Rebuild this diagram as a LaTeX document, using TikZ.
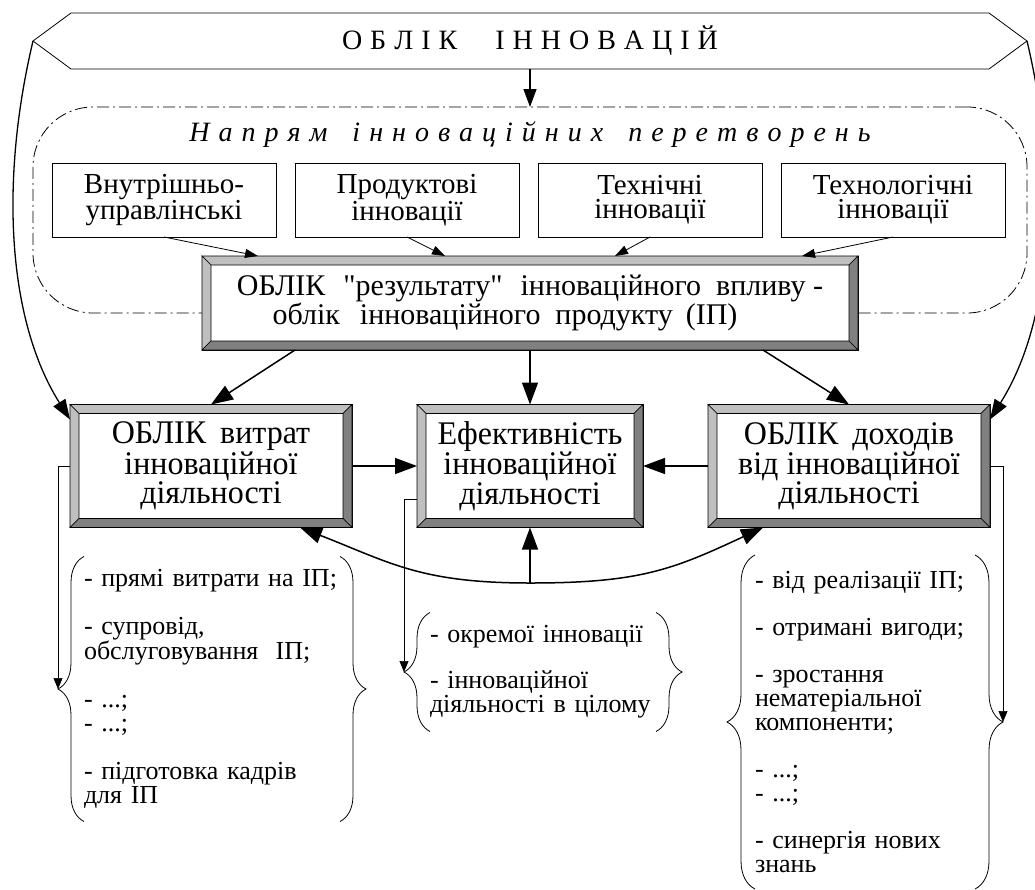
\documentclass[tikz,border=0pt]{standalone}
\usepackage{fontspec}
\setmainfont{Liberation Serif}[Ligatures=TeXOff]
\usetikzlibrary{positioning,calc,arrows.meta,decorations.pathreplacing}

\colorlet{bevlight}{black!25}
\colorlet{bevdark}{black!50}

\newcommand{\boxfont}{\fontsize{33}{25}\selectfont\addfontfeature{FakeStretch=0.97}}

% frame of a raised box, drawn round a named node
\newcommand{\bevelframe}[1]{%
  \filldraw[fill=bevlight,line width=0.6pt] (#1.north west) -- (#1.north east) -- ([shift={(-9,9)}]#1.north east) -- ([shift={(9,9)}]#1.north west) -- cycle;
  \filldraw[fill=bevlight,line width=0.6pt] (#1.north west) -- ([shift={(9,9)}]#1.north west) -- ([shift={(9,-9)}]#1.south west) -- (#1.south west) -- cycle;
  \filldraw[fill=bevdark,line width=0.6pt] (#1.north east) -- (#1.south east) -- ([shift={(-9,-9)}]#1.south east) -- ([shift={(-9,9)}]#1.north east) -- cycle;
  \filldraw[fill=bevdark,line width=0.6pt] (#1.south west) -- ([shift={(9,-9)}]#1.south west) -- ([shift={(-9,-9)}]#1.south east) -- (#1.south east) -- cycle;
}

\begin{document}
\begin{tikzpicture}[x=1pt,y=-1pt,
  every node/.style={font=\fontsize{26}{24}\selectfont, outer sep=0pt},
  kind/.style={draw, line width=0.8pt, minimum width=224pt, minimum height=74pt, align=center, inner sep=0pt, font=\fontsize{29}{24}\selectfont},
  bevel/.style={draw, fill=white, line width=0.6pt, align=center, inner sep=0pt, font=\boxfont},
  listbox/.style={align=left, inner sep=0pt},
  curly/.style={decorate, decoration={brace, amplitude=#1}, line width=0.8pt},
  zone/.style={draw, line width=0.8pt, rounded corners=60pt, dash pattern=on 12pt off 4pt on 2pt off 4pt},
  arr/.style={line width=1.5pt, >={Triangle[length=22pt,width=16pt]}, ->},
  bigarr/.style={line width=1.3pt, -{Triangle[length=20pt,width=14pt]}},
  thinarr/.style={line width=0.8pt, -{Triangle[length=13pt,width=9pt]}},
  listarr/.style={line width=0.6pt, -{Triangle[length=11pt,width=9pt]}}]
\useasboundingbox (0,0) rectangle (1035,889);

% banner
\node[minimum width=918pt, minimum height=56pt, inner sep=0pt, font=\fontsize{28}{24}\selectfont] (banner) at (530,41)
  {\spaceskip=8pt\relax О Б Л І К\hspace{38pt}І Н Н О В А Ц І Й};
\draw[line width=0.8pt] (banner.north west) -- (banner.north east) -- ([xshift=38pt]banner.east)
  -- (banner.south east) -- (banner.south west) -- ([xshift=-38pt]banner.west) -- cycle;
\coordinate (bL) at ([xshift=-38pt]banner.west);
\coordinate (bR) at ([xshift=38pt]banner.east);

% directions
\node[zone, minimum width=994pt, minimum height=206pt] (zone) at (530,210) {};
\node[font=\fontsize{28}{24}\selectfont\itshape] (dir) at (530,135)
  {\spaceskip=9pt\relax Н а п р я м\hspace{25pt}і н н о в а ц і й н и х\hspace{25pt}п е р е т в о р е н ь};

\node[kind] (k1) at (164,200) {Внутрішньо-\\управлінські};
\node[kind, right=19pt of k1] (k2) {Продуктові\\інновації};
\node[kind, right=19pt of k2] (k3) {Технічні\\інновації};
\node[kind, right=19pt of k3] (k4) {Технологічні\\інновації};

\node[bevel, minimum width=656pt, minimum height=94pt, font=\fontsize{30}{25}\selectfont] (res) at (530,303)
  {ОБЛІК\hspace{18pt}"результату"\hspace{18pt}інноваційного\hspace{15pt}впливу -\\облік\hspace{20pt}інноваційного\hspace{15pt}продукту\hspace{13pt}(ІП)\hspace*{50pt}};
\bevelframe{res}

\node[bevel, minimum width=282pt, minimum height=123pt] (cost) at (211,466) {ОБЛІК\hspace{14pt}витрат\\інноваційної\\діяльності};
\node[bevel, minimum width=226pt, minimum height=123pt] (eff) at (530,466) {Ефективність\\інноваційної\\діяльності};
\node[bevel, minimum width=282pt, minimum height=123pt] (inc) at (849,466) {ОБЛІК\hspace{14pt}доходів\\від інноваційної\\діяльності};
\bevelframe{cost}
\bevelframe{eff}
\bevelframe{inc}

% lists
\node[listbox, text width=256pt, minimum height=265pt] (lc) at (212,689)
  {- прямі витрати на ІП;\\[24pt]- супровід,\\обслуговування\ \ ІП;\\[24pt]- ...;\\- ...;\\[24pt]- підготовка кадрів\\для ІП};
\node[listbox, text width=226pt, minimum height=119pt] (lm) at (543,672)
  {- окремої інновації\\[22pt]- інноваційної\\діяльності в цілому};
\node[listbox, text width=220pt, minimum height=334pt] (lr) at (865,722)
  {- від реалізації ІП;\\[23pt]- отримані вигоди;\\[23pt]- зростання\\нематеріальної\\компоненти;\\[23pt]- ...;\\- ...;\\[23pt]- синергія нових\\знань};
\draw[curly=26pt] (lc.south west) -- (lc.north west);
\draw[curly=26pt] (lc.north east) -- (lc.south east);
\draw[curly=26pt] (lm.south west) -- (lm.north west);
\draw[curly=26pt] (lm.north east) -- (lm.south east);
\draw[curly=28pt] (lr.south west) -- (lr.north west);
\draw[curly=28pt] (lr.north east) -- (lr.south east);

% connectors
\draw[line width=1.3pt, -{Triangle[length=18pt,width=13pt]}] (banner.south) -- (zone.north);
\draw[bigarr] (bL) .. controls +(-33,139) and +(-63,-100) .. ([yshift=-15pt]cost.north west);
\draw[bigarr] (bR) .. controls +(33,139) and +(63,-100) .. ([yshift=-15pt]inc.north east);

\draw[thinarr] (k1.south) -- ([xshift=56pt]res.north west);
\draw[thinarr] (k2.south) -- ([xshift=243pt]res.north west);
\draw[thinarr] (k3.south) -- ([xshift=413pt]res.north west);
\draw[thinarr] (k4.south) -- ([xshift=600pt]res.north west);

\draw[arr] ([xshift=93pt]res.south west) -- (cost.north);
\draw[arr] (res.south) -- (eff.north);
\draw[arr] ([xshift=-95pt]res.south east) -- (inc.north);
\draw[arr] (cost.east) -- (eff.west);
\draw[arr] (inc.west) -- (eff.east);

\coordinate (low) at (530,583);
\draw[arr, <->] ([xshift=89pt]cost.south) .. controls +(90,35) and +(-110,0) .. (low)
  .. controls +(110,0) and +(-90,42) .. ([xshift=-86pt]inc.south);
\draw[arr] (low) -- (eff.south);

\draw[listarr] (cost.west) -| ([xshift=-26pt]lc.west);
\draw[listarr] ([yshift=-33pt]eff.west) -| ([xshift=-26pt]lm.west);
\draw[listarr] (inc.east) -| ([xshift=28pt]lr.east);
\end{tikzpicture}
\end{document}
